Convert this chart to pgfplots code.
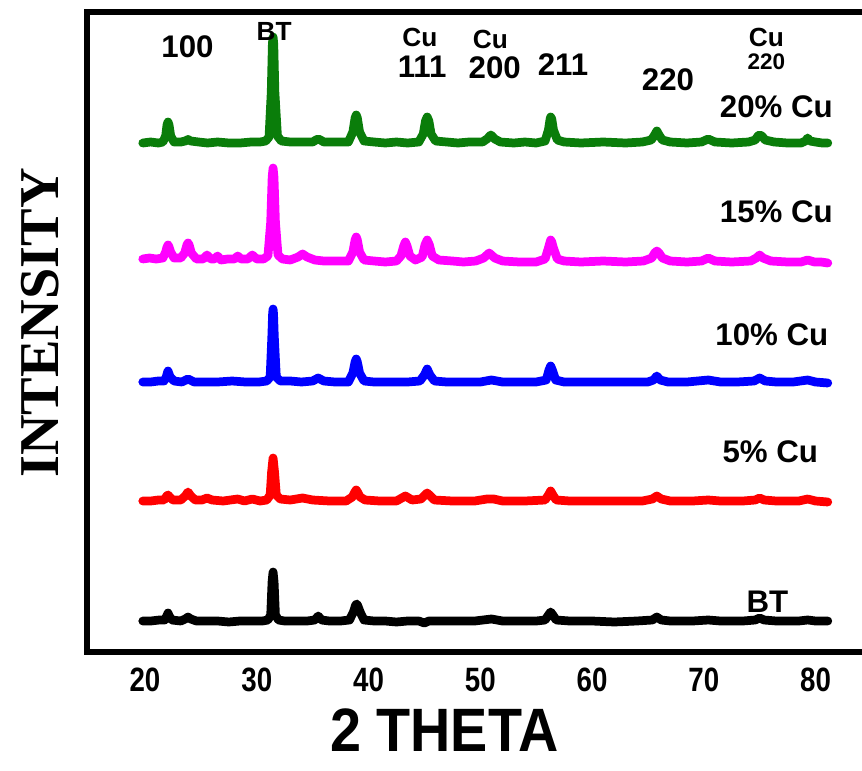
\documentclass[border=0pt]{standalone}
\usepackage{fontspec}
\setmainfont{Liberation Sans}
\newfontfamily\serifb{Liberation Serif}
\newfontfamily\narrowb[FakeStretch=0.82]{Liberation Sans}
\newfontfamily\labelb[FakeStretch=0.91]{Liberation Sans}
\usepackage{pgfplots}
\pgfplotsset{compat=1.18}
\definecolor{xgreen}{RGB}{10,125,10}
\definecolor{xmag}{RGB}{255,0,255}
\definecolor{xblue}{RGB}{0,0,255}
\definecolor{xred}{RGB}{255,0,0}
\tikzset{
  lbl/.style={font=\bfseries\fontsize{12.5}{14}\selectfont, inner sep=0pt},
  sml/.style={font=\bfseries\fontsize{10.5}{12}\selectfont, inner sep=0pt},
}

% patterns, offset vertically (axis units = pixels of the reference)
\pgfplotstableread{
x y
19.8 509
20.5 510
21.2 509
21.6 510
21.85 516
21.97 527
22.06 530
22.15 527
22.3 516
22.6 510
23.2 510
23.6 511
23.85 512.5
24.1 511
24.8 510
25.6 509
26.5 510
27.5 509
28.5 509
29.5 510
30.3 510
30.8 511
31.1 515
31.3 560
31.4 608
31.46 615
31.52 608
31.62 560
31.85 516
32.2 511
33 510
34 510
35.0 510
35.3 512
35.5 513
35.7 512
36 510
37 510
38.2 510
38.6 520
38.8 534
38.9 537
39.0 534
39.2 520
39.6 511
40.5 510
41.5 509
42.5 510
43.5 509
44.5 510
44.9 518
45.1 531
45.25 535
45.4 531
45.6 518
46 511
47 510
48 509
49 510
50.2 510
50.6 513
50.95 517
51.3 513
51.8 510
53 509
54 510
55 509
55.8 511
56.1 522
56.25 533
56.3 535
56.4 533
56.55 522
56.9 512
57.5 510
59 509
61 510
63 509
64.5 510
65.3 512
65.6 517
65.8 521
66.0 517
66.3 512
67 510
68.5 509
69.8 510
70.4 513
71 510
72.5 509
74 510
74.6 512
74.85 516
75.0 517
75.2 516
75.5 512
76.3 510
77.5 509
78.7 509
79.1 511
79.3 514
79.5 511
80 510
80.6 509
81.1 509
}\cutwenty

\pgfplotstableread{
x y
19.8 393
20.4 394
21.0 393
21.6 394
21.85 400
21.97 405
22.06 407
22.15 405
22.3 400
22.6 394
23.2 394
23.55 399
23.75 407
23.85 409
23.95 407
24.15 399
24.6 393
25.2 393
25.55 397
25.9 393
26.2 393
26.5 396
26.8 392
27.4 393
28.0 393
28.3 396
28.6 393
29.2 393
29.6 397
30.0 393
30.6 393
31.0 396
31.25 430
31.38 475
31.46 484
31.54 475
31.67 430
31.9 397
32.3 393
33.0 392
33.7 395
34.1 398
34.5 395
35.2 392
36.0 391
37.0 391
38.2 391
38.6 400
38.8 412
38.9 415
39.0 412
39.2 400
39.6 392
40.5 391
41.5 390
42.5 391
42.9 396
43.15 406
43.3 410
43.45 406
43.7 396
44.2 392
44.8 395
45.05 407
45.25 412
45.45 407
45.7 396
46.3 392
47.5 391
48.5 390
49.6 391
50.3 394
50.8 399
51.3 394
52 391
53.5 390
55 390
55.8 393
56.1 404
56.25 410
56.3 412
56.4 410
56.55 404
56.9 393
57.5 391
59 390
61 391
63 390
64.6 391
65.35 394
65.6 399
65.8 401
66.0 399
66.3 394
67.0 391
68.5 390
69.8 391
70.4 394
71.0 391
72.5 390
74.2 391
74.7 394
75.0 397
75.3 394
76.0 391
77.5 390
78.7 390
79.3 392
79.9 390
80.5 390
81.1 389
}\cufifteen

\pgfplotstableread{
x y
19.8 270
20.5 270
21.2 271
21.7 271
21.9 275
22.0 279
22.06 281
22.12 279
22.25 275
22.6 271
23.3 270
23.85 273
24.4 270
25.2 270
26.5 270
27.8 271
29 270
30.2 270
30.9 271
31.2 275
31.35 315
31.42 338
31.46 343
31.5 338
31.57 315
31.75 275
32.1 271
33 271
34 270
35.0 271
35.5 274
36.0 271
37 270
38.2 270
38.6 279
38.8 290
38.9 293
39.0 290
39.2 279
39.6 271
40.5 270
42 270
43.5 270
44.6 271
45.0 277
45.25 283
45.5 277
45.9 271
47 270
48.5 270
50 270
51 272
52 270
53.5 270
55 270
55.9 272
56.15 282
56.3 286
56.45 282
56.75 272
57.5 270
59 270
61 270
63 270
65 270
65.5 272
65.8 276
66.1 272
66.8 270
68.5 270
70.4 272
71.5 270
73 270
74.5 271
75.0 274
75.5 271
76.5 270
78 270
79.3 272
80 270
81.1 269
}\cuten

\pgfplotstableread{
x y
19.8 151
20.5 151
21.2 152
21.7 152
21.95 156
22.06 157
22.2 155
22.5 152
23.2 152
23.6 156
23.85 160
24.1 156
24.5 152
25.1 152
25.55 154
26 152
27 151
28.3 153
28.9 151
29.6 153
30.3 151
30.9 152
31.2 157
31.33 180
31.46 194
31.59 180
31.75 157
32.1 153
33 152
34.1 154
35 152
36.5 151
38 151
38.55 155
38.78 160
38.9 162
39.02 160
39.25 155
39.7 152
41 151
42.5 151
43.3 156
43.9 152
44.7 153
45.05 157
45.25 159
45.45 157
45.9 152
47.5 151
49.5 151
50.6 153
51.2 153
52 151
54 151
55.8 152
56.1 157
56.3 161
56.5 157
56.8 152
58 151
60 151
62 151
64.5 151
65.4 153
65.8 156
66.2 153
67 151
69 151
70.4 152
71.5 151
73.5 151
74.6 152
75.0 154
75.4 152
76.5 151
78.5 151
79.3 153
80.0 151
81.1 150
}\cufive

\pgfplotstableread{
x y
19.8 31
20.5 31
21.3 32
21.75 32
21.95 36
22.06 39
22.17 36
22.4 32
23.2 31
23.6 33
23.85 35
24.1 33
24.6 31
25.5 31
26.5 31
27.5 30
28.5 31
29.5 31
30.5 31
31.0 32
31.25 37
31.37 70
31.46 80
31.55 70
31.67 37
31.95 32
32.5 31
33.5 31
34.5 31
35.2 32
35.5 36
35.8 32
36.5 31
37.5 31
38.3 32
38.65 40
38.85 47
38.95 48
39.05 46
39.25 40
39.6 32
40.5 31
41.5 31
42.5 30
43.5 31
44.5 31
45.0 29
45.4 31
46.5 31
48 31
49.5 31
51.0 33
52 31
53.5 31
55 31
55.8 32
56.1 37
56.3 40
56.5 37
56.8 32
58 31
60 31
62 30
64 31
65.4 32
65.8 35
66.2 32
67 31
69 31
70.4 32
71.5 31
73.5 31
74.6 32
75.0 34
75.4 32
76.5 31
78.5 31
79.3 32
80 31
81.1 31
}\bt

\begin{document}
\begin{tikzpicture}
\begin{axis}[
  scale only axis,
  width=311.3pt, height=256pt,
  xmin=14.81, xmax=84.45, ymin=0, ymax=640,
  xtick={20,30,40,50,60,70,80},
  xticklabels={20,30,40,50,60,70,80},
  ytick=\empty,
  major tick length=0pt,
  axis line style={line width=2.6pt},
  xticklabel style={font=\narrowb\bfseries\fontsize{13.5}{14}\selectfont,
    anchor=north, yshift=-3pt},
  clip=false,
  every axis plot/.append style={line width=3.5pt, line join=round, line cap=round},
]
\addplot[xgreen] table {\cutwenty};
\addplot[xmag] table {\cufifteen};
\addplot[xblue] table {\cuten};
\addplot[xred] table {\cufive};
\addplot[black] table {\bt};

% peak labels
\node[lbl] at (axis cs:23.8,605) {100};
\node[sml] at (axis cs:31.55,621) {BT};
\node[sml] at (axis cs:44.6,615) {Cu};
\node[lbl] at (axis cs:44.8,585) {111};
\node[sml] at (axis cs:50.9,613) {Cu};
\node[lbl] at (axis cs:51.3,584) {200};
\node[lbl] at (axis cs:57.4,587) {211};
\node[lbl] at (axis cs:66.8,572) {220};
\node[sml] at (axis cs:75.6,615) {Cu};
\node[font=\bfseries\fontsize{9}{10}\selectfont, inner sep=0pt] at (axis cs:75.6,590) {220};

% series labels
\node[lbl] at (axis cs:76.5,545) {20\% Cu};
\node[lbl] at (axis cs:76.5,440) {15\% Cu};
\node[lbl] at (axis cs:76.1,317) {10\% Cu};
\node[lbl] at (axis cs:75.95,200) {5\% Cu};
\node[lbl] at (axis cs:75.7,50) {BT};

\node[font=\labelb\bfseries\fontsize{24.5}{26}\selectfont, inner sep=0pt, yshift=-31.2pt]
  at (rel axis cs:0.459,0) {2 THETA};
\node[font=\serifb\bfseries\fontsize{22.5}{24}\selectfont, inner sep=0pt, rotate=90]
  at ([xshift=-18.8pt]rel axis cs:0,0.514) {INTENSITY};

\coordinate (SW) at (rel axis cs:0,0);
\coordinate (NE) at (rel axis cs:1,1);
\end{axis}
\pgfresetboundingbox
\path ([shift={(-34.8pt,-47.2pt)}]SW) rectangle ([shift={(-1.3pt,4.8pt)}]NE);
\end{tikzpicture}
\end{document}
